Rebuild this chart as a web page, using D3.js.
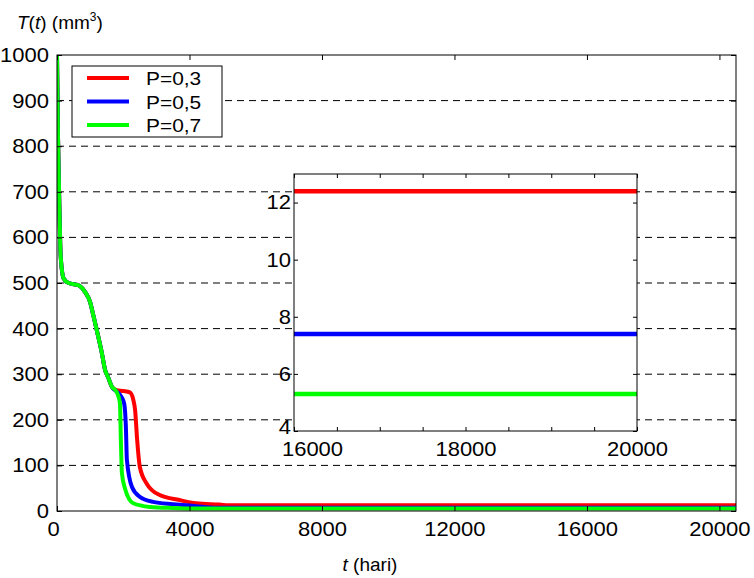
<!DOCTYPE html>
<html>
<head>
<meta charset="utf-8">
<script src="https://cdn.jsdelivr.net/npm/d3@7"></script>
<style>
  body { margin: 0; background: #ffffff; }
  text { font-family: "Liberation Sans", Arial, sans-serif; fill: #000; }
</style>
</head>
<body>
<div id="chart"></div>
<script>
// valeurs
var seriesNames = ["P=0,3", "P=0,5", "P=0,7"];
var seriesColors = ["#ff0000", "#0000ff", "#00ff00"];

// partie commune aux trois courbes
var tCommun = [0, 30, 80, 110, 200, 350, 650, 850, 1000, 1100, 1200, 1350, 1450, 1550, 1660];
var vCommun = [1000, 820, 640, 560, 510, 500, 495, 480, 458, 428, 397, 348, 310, 292, 272];

var tP03 = [1800, 2000, 2200, 2300, 2360, 2420, 2500, 2700, 3100, 3700, 4200, 4900, 5200, 16000, 20000, 20500];
var vP03 = [265, 263, 260, 245, 220, 156, 97, 61, 35, 24, 17, 14, 12.4, 12.4, 12.4, 12.4];

var tP05 = [1800, 1950, 2030, 2080, 2110, 2260, 2500, 2900, 3500, 4000, 4500, 5000, 16000, 20000, 20500];
var vP05 = [262, 250, 235, 184, 112, 53, 31, 20, 15, 12, 8.5, 7.4, 7.4, 7.4, 7.4];

var tP07 = [1750, 1860, 1900, 1930, 1960, 2050, 2300, 2800, 3500, 4200, 16000, 20000, 20500];
var vP07 = [266, 250, 236, 149, 83, 50, 17, 9, 6.5, 5.3, 5.3, 5.3, 5.3];

var xTicks = [0, 4000, 8000, 12000, 16000, 20000];
var yTicks = [0, 100, 200, 300, 400, 500, 600, 700, 800, 900, 1000];
var insetXTicks = [16000, 16500, 17000, 17500, 18000, 18500, 19000, 19500, 20000];
var insetXLabels = [16000, 18000, 20000];
var insetYTicks = [4, 6, 8, 10, 12];

function assemble(t, v) {
    var pts = [];
    for (var i = 0; i < tCommun.length; i++) pts.push([tCommun[i], vCommun[i]]);
    for (var j = 0; j < t.length; j++) pts.push([t[j], v[j]]);
    return pts;
}
var donnees = [assemble(tP03, vP03), assemble(tP05, vP05), assemble(tP07, vP07)];

var W = 754, H = 578;
var police = "'Liberation Sans', Arial, sans-serif";
var svg = d3.select("#chart").append("svg").attr("width", W).attr("height", H);

var x = d3.scaleLinear().domain([0, 20500]).range([57, 736]);
var y = d3.scaleLinear().domain([0, 1000]).range([511, 55]);

// grille horizontale pointillée
svg.append("g").selectAll("line")
    .data(yTicks.filter(function(d) { return d > 0 && d < 1000; }))
    .join("line")
    .attr("x1", 57).attr("x2", 736)
    .attr("y1", function(d) { return y(d); }).attr("y2", function(d) { return y(d); })
    .attr("stroke", "#000").attr("stroke-width", 1).attr("stroke-dasharray", "7,5");

svg.append("clipPath").attr("id", "clipMain").append("rect")
    .attr("x", 57).attr("y", 55).attr("width", 679).attr("height", 456);

var ligne = d3.line()
    .x(function(d) { return x(d[0]); })
    .y(function(d) { return y(d[1]); })
    .curve(d3.curveMonotoneX);

svg.append("g").attr("clip-path", "url(#clipMain)")
    .selectAll("path").data(donnees).join("path")
    .attr("d", ligne)
    .attr("fill", "none")
    .attr("stroke", function(d, i) { return seriesColors[i]; })
    .attr("stroke-width", 4)
    .attr("stroke-linejoin", "round");

// cadre et graduations
svg.append("rect").attr("x", 57).attr("y", 55).attr("width", 679).attr("height", 456)
    .attr("fill", "none").attr("stroke", "#000").attr("stroke-width", 1);

var axeG = d3.axisLeft(y).tickValues(yTicks).tickSize(-5).tickPadding(8).tickFormat(d3.format("d"));
svg.append("g").attr("transform", "translate(57,0)").call(axeG);
svg.append("g").attr("transform", "translate(736,0)")
    .call(d3.axisRight(y).tickValues(yTicks).tickSize(-5).tickFormat(""));
var axeB = d3.axisBottom(x).tickValues(xTicks).tickSize(-5).tickPadding(11).tickFormat(d3.format("d"));
var gB = svg.append("g").attr("transform", "translate(0,511)").call(axeB);
svg.append("g").attr("transform", "translate(0,55)")
    .call(d3.axisTop(x).tickValues(xTicks).tickSize(-5).tickFormat(""));

svg.selectAll(".domain").remove();
svg.selectAll(".tick text").style("font-size", "20px").style("font-family", police);
gB.selectAll(".tick text").filter(function(d) { return d === 0; }).attr("x", -4);

// titres des axes
var ty = svg.append("text").attr("x", 17).attr("y", 29).style("font-size", "19px");
ty.append("tspan").style("font-style", "italic").text("T");
ty.append("tspan").text("(");
ty.append("tspan").style("font-style", "italic").text("t");
ty.append("tspan").text(") (mm");
ty.append("tspan").attr("dy", -8).style("font-size", "12px").text("3");
ty.append("tspan").attr("dy", 8).text(")");

var tx = svg.append("text").attr("x", 370).attr("y", 571).attr("text-anchor", "middle").style("font-size", "19px");
tx.append("tspan").style("font-style", "italic").text("t");
tx.append("tspan").text(" (hari)");

// légende
var leg = svg.append("g");
leg.append("rect").attr("x", 72).attr("y", 66).attr("width", 150).attr("height", 71)
    .attr("fill", "#fff").attr("stroke", "#000").attr("stroke-width", 1);
seriesNames.forEach(function(n, i) {
    var yy = 78 + i * 23.5;
    leg.append("line").attr("x1", 87).attr("x2", 129).attr("y1", yy).attr("y2", yy)
        .attr("stroke", seriesColors[i]).attr("stroke-width", 4);
    leg.append("text").attr("class", "legtxt").attr("x", 146).attr("y", yy + 7).style("font-size", "19px").text(n);
});

// encart 16000-20000
var xi = d3.scaleLinear().domain([16000, 20000]).range([294, 637]);
var yi = d3.scaleLinear().domain([4, 13]).range([431, 174]);
var enc = svg.append("g");
enc.append("rect").attr("x", 294).attr("y", 174).attr("width", 343).attr("height", 257)
    .attr("fill", "#fff");
enc.append("clipPath").attr("id", "clipInset").append("rect")
    .attr("x", 294).attr("y", 174).attr("width", 343).attr("height", 257);
var ligneI = d3.line()
    .x(function(d) { return xi(d[0]); })
    .y(function(d) { return yi(d[1]); });
enc.append("g").attr("clip-path", "url(#clipInset)")
    .selectAll("path").data(donnees.map(function(s) { return s.filter(function(p) { return p[0] >= 16000; }); }))
    .join("path")
    .attr("d", ligneI)
    .attr("fill", "none")
    .attr("stroke", function(d, i) { return seriesColors[i]; })
    .attr("stroke-width", 4.5);
enc.append("rect").attr("x", 294).attr("y", 174).attr("width", 343).attr("height", 257)
    .attr("fill", "none").attr("stroke", "#000").attr("stroke-width", 1);
enc.append("g").attr("transform", "translate(294,0)")
    .call(d3.axisLeft(yi).tickValues(insetYTicks).tickSize(-4).tickPadding(3));
enc.append("g").attr("transform", "translate(637,0)")
    .call(d3.axisRight(yi).tickValues(insetYTicks).tickSize(-4).tickFormat(""));
var axeBi = enc.append("g").attr("transform", "translate(0,431)")
    .call(d3.axisBottom(xi).tickValues(insetXTicks).tickSize(-4).tickPadding(11)
        .tickFormat(function(d) { return insetXLabels.indexOf(d) >= 0 ? d3.format("d")(d) : ""; }));
enc.append("g").attr("transform", "translate(0,174)")
    .call(d3.axisTop(xi).tickValues(insetXTicks).tickSize(-4).tickFormat(""));
enc.selectAll(".domain").remove();
enc.selectAll(".tick text").style("font-size", "20px").style("font-family", police);
// décalages comme sur l'original
axeBi.selectAll(".tick text").filter(function(d) { return d === 16000; }).attr("x", 18);
enc.selectAll(".tick text").filter(function(d) { return d === 4; }).attr("dy", "0.1em");

// le texte de l'original est un peu plus large que haut
svg.selectAll(".tick text, .legtxt").each(function() {
    var l = this.getComputedTextLength();
    if (l > 0) d3.select(this).attr("textLength", l * 1.1).attr("lengthAdjust", "spacingAndGlyphs");
});
</script>
</body>
</html>
